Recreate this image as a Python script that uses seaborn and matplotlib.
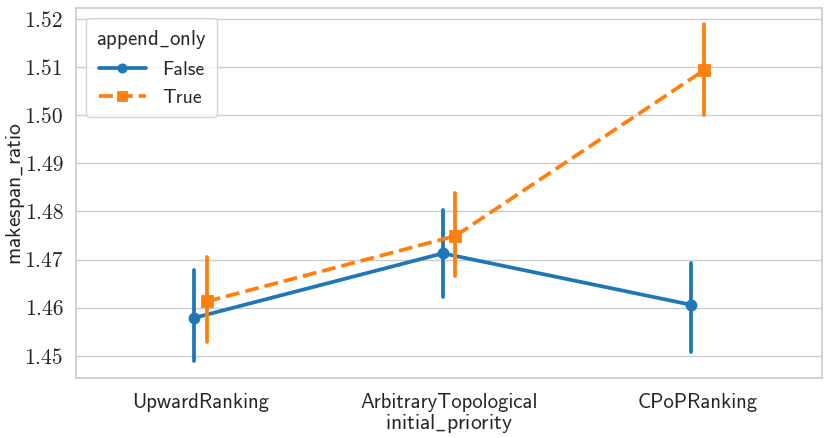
import pandas as pd
import matplotlib.pyplot as plt
import seaborn as sns

# valeurs : borne basse, point, borne haute
priorities = ["UpwardRanking", "ArbitraryTopological", "CPoPRanking"]
false_low = [1.4490, 1.4623, 1.4509]
false_mid = [1.4579, 1.4713, 1.4606]
false_high = [1.4679, 1.4803, 1.4693]
true_low = [1.4528, 1.4665, 1.5001]
true_mid = [1.4613, 1.4749, 1.5093]
true_high = [1.4705, 1.4839, 1.5190]

rows = []
for i, p in enumerate(priorities):
    for v in (false_low[i], false_mid[i], false_high[i]):
        rows.append({"initial_priority": p, "append_only": "False", "makespan_ratio": v})
    for v in (true_low[i], true_mid[i], true_high[i]):
        rows.append({"initial_priority": p, "append_only": "True", "makespan_ratio": v})
df = pd.DataFrame(rows)

sns.set_theme(style="whitegrid", font_scale=1.3)
plt.rcParams["font.family"] = ["cmss10", "DejaVu Sans"]
plt.rcParams["mathtext.fontset"] = "cm"

fig, ax = plt.subplots(figsize=(8.3, 4.38), dpi=100)
sns.pointplot(data=df, x="initial_priority", y="makespan_ratio", hue="append_only",
              estimator="median", errorbar=lambda v: (v.min(), v.max()),
              dodge=True, markers=["o", "s"], linestyles=["-", "--"],
              palette="tab10", markersize=6.5, ax=ax)

ax.set_ylim(1.4454, 1.5223)
ax.set_yticks([1.45, 1.46, 1.47, 1.48, 1.49, 1.50, 1.51, 1.52])
ax.set_yticklabels(["1.45", "1.46", "1.47", "1.48", "1.49", "1.50", "1.51", "1.52"],
                   family="cmr10", fontsize=15.6)
ax.tick_params(axis="x", labelsize=14.9, pad=5)
ax.set_xlabel(r"$\mathsf{initial\_priority}$", fontsize=15.6)
ax.set_ylabel(r"$\mathsf{makespan\_ratio}$", fontsize=15.6)
ax.xaxis.set_label_coords(0.5, -0.093)
ax.yaxis.set_label_coords(-0.066, 0.5)

handles, labels = ax.get_legend_handles_labels()
ax.legend(handles, labels, title=r"$\mathsf{append\_only}$", loc="upper left",
          handlelength=2.4, markerscale=0.8, borderpad=0.5, labelspacing=0.5,
          fontsize=14.3, title_fontsize=15)

fig.subplots_adjust(left=0.092, right=0.99, top=0.982, bottom=0.137)
fig.savefig("out.png")
